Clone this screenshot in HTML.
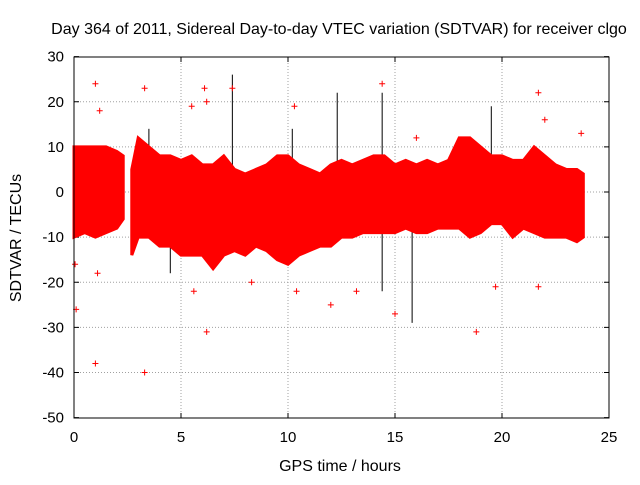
<!DOCTYPE html>
<html><head><meta charset="utf-8"><style>
body{margin:0;background:#fff}
svg text{font-family:"Liberation Sans",sans-serif;fill:#000}
</style></head><body>
<svg id="c" width="640" height="480" xmlns="http://www.w3.org/2000/svg">
<rect width="640" height="480" fill="#fff"/>
<text x="339" y="34" font-size="16" text-anchor="middle">Day 364 of 2011, Sidereal Day-to-day VTEC variation (SDTVAR) for receiver clgo</text>
<text x="340" y="471" font-size="16" text-anchor="middle">GPS time / hours</text>
<text x="21" y="238" font-size="16" text-anchor="middle" transform="rotate(-90 21 238)">SDTVAR / TECUs</text>
<g id="grid"></g><g id="marks"></g>
<rect x="74" y="57" width="535" height="361" fill="none" stroke="#000" stroke-width="1"/>
</svg>
<script>
const xTicks=[0,5,10,15,20,25];
const yTicks=[30,20,10,0,-10,-20,-30,-40,-50];
const seg1Time=[0,0.5,1,1.5,2,2.3];
const seg1Upper=[10,10,10,10,9,8];
const seg1Lower=[-10,-9,-10,-9,-8,-6];
const seg2Time=[2.7,3,3.5,4,4.5,5,5.5,6,6.5,7,7.5,8,8.5,9,9.5,10,10.5,11,11.5,12,12.5,13,13.5,14,14.5,15,15.5,16,16.5,17,17.5,18,18.5,19,19.5,20,20.5,21,21.5,22,22.5,23,23.5,23.8];
const seg2Upper=[5,12,10,8,8,7,8,6,6,8,5,4,5,6,8,8,6,5,4,6,7,6,7,8,8,6,7,6,7,6,7,12,12,10,8,8,7,7,10,8,6,5,5,4];
const seg2Lower=[-14,-10,-10,-12,-12,-14,-14,-14,-17,-14,-13,-14,-12,-13,-15,-16,-14,-13,-12,-12,-10,-10,-9,-9,-9,-9,-8,-9,-9,-8,-8,-8,-10,-9,-7,-7,-10,-8,-9,-10,-10,-10,-11,-10];
const outTime=[1,1,3.3,3.3,5.5,6.1,6.2,7.4,10.3,10.4,12,14.4,15,18.8,19.7,21.7,21.7,23.7,6.2,1.2,0.1,1.1,13.2,16,22,0.05,5.6,8.3];
const outVal=[24,-38,-40,23,19,23,-31,23,19,-22,-25,24,-27,-31,-21,22,-21,13,20,18,-26,-18,-22,12,16,-16,-22,-20];
const errTime=[7.4,12.3,15.8,14.4,3.5,4.5,19.5,10.2];
const errHigh=[26,22,-5,22,14,-5,19,14];
const errLow=[-13,-2,-29,-22,-10,-18,-3,-2];
const X=t=>74+t*(535/25), Y=v=>192-v*(361/80);
const NS="http://www.w3.org/2000/svg";
const grid=document.getElementById('grid'),marks=document.getElementById('marks');
function mk(tag,a,p){const e=document.createElementNS(NS,tag);for(const k in a)e.setAttribute(k,a[k]);p.appendChild(e);return e;}
xTicks.forEach(t=>{
 if(t>0&&t<25){const g=mk('line',{x1:X(t),x2:X(t),y1:57,y2:418,stroke:'#a0a0a0','stroke-dasharray':'1,2'},grid);
 
 }
 mk('line',{x1:X(t),x2:X(t),y1:418,y2:413,stroke:'#000'},grid);
 mk('line',{x1:X(t),x2:X(t),y1:57,y2:62,stroke:'#000'},grid);
 const l=mk('text',{x:X(t),y:442,'font-size':15,'text-anchor':'middle'},grid);l.textContent=t;
 
 
});
yTicks.forEach(v=>{
 if(v<30&&v>-50){const g=mk('line',{x1:74,x2:609,y1:Y(v),y2:Y(v),stroke:'#a0a0a0','stroke-dasharray':'1,2'},grid);
 
 }
 mk('line',{x1:74,x2:79,y1:Y(v),y2:Y(v),stroke:'#000'},grid);
 mk('line',{x1:604,x2:609,y1:Y(v),y2:Y(v),stroke:'#000'},grid);
 const l=mk('text',{x:64,y:Y(v)+5,'font-size':15,'text-anchor':'end'},grid);l.textContent=v;
 
 
});
errTime.forEach((t,i)=>{
 const e=mk('line',{x1:X(t),x2:X(t),y1:Y(errHigh[i]),y2:Y(errLow[i]),stroke:'#000'},marks);
 
 
});
function band(T,U,L){
 let pts=T.map((t,i)=>X(t)+','+Y(U[i]));
 for(let i=T.length-1;i>=0;i--)pts.push(X(T[i])+','+Y(L[i]));
 const p=mk('polygon',{points:pts.join(' '),fill:'#ff0000',stroke:'#ff0000','stroke-width':3,'stroke-linejoin':'miter'},marks);
 
 
}
band(seg1Time,seg1Upper,seg1Lower);
band(seg2Time,seg2Upper,seg2Lower);
outTime.forEach((t,i)=>{
 const x=X(t),y=Y(outVal[i]);
 const p=mk('path',{d:`M${x-3},${y}H${x+3}M${x},${y-3}V${y+3}`,stroke:'#ff0000','stroke-width':1},marks);
 
 
});
</script>
</body></html>
